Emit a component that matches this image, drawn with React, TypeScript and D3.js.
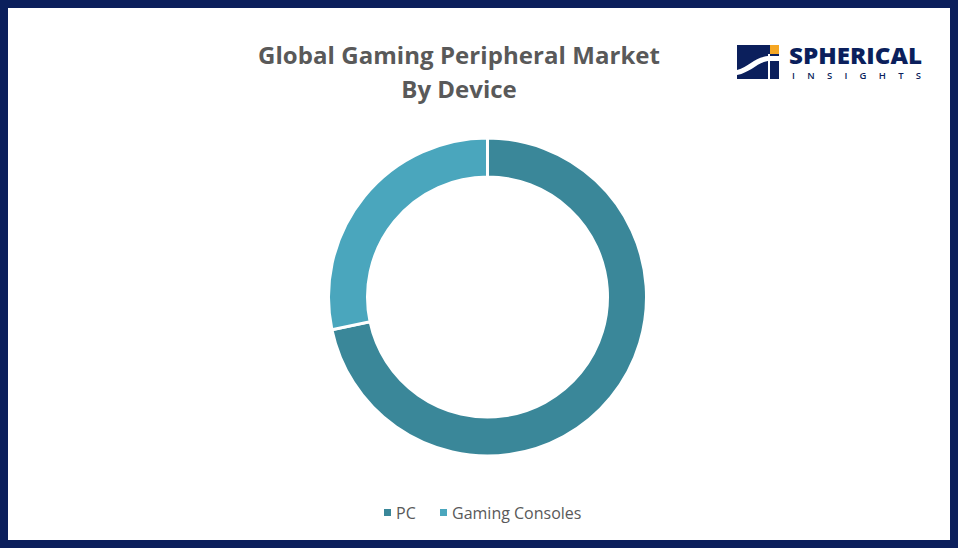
import React from "react";
import * as d3 from "d3";

const categories = ["PC", "Gaming Consoles"];
const values = [71.7, 28.3];
const colors = ["#3a8799", "#4aa6bd"];
const titleLines = ["Global Gaming Peripheral Market", "By Device"];

export default function App() {
  const W = 958, H = 548;
  const cx = 487.5, cy = 297, rOuter = 159, rInner = 120;
  const pie = d3.pie<number>().sort(null).value((d) => d);
  const arcs = pie(values);
  const arcGen = d3.arc<d3.PieArcDatum<number>>().innerRadius(rInner).outerRadius(rOuter);
  const legendX = [384, 440];
  return (
    <svg width={W} height={H} style={{ position: "absolute", left: 0, top: 0 }}>
      <rect x={0} y={0} width={W} height={H} fill="#ffffff" />
      <rect x={4} y={4} width={W - 8} height={H - 8} fill="none" stroke="#0b1f5c" strokeWidth={8} />
      {titleLines.map((t, i) => (
        <text key={i} x={459} y={64 + i * 34} textAnchor="middle" fontFamily="Open Sans, Lato, sans-serif" fontWeight={700} fontSize={24} fill="#595959" textLength={i === 0 ? 402 : undefined}>{t}</text>
      ))}
      <g transform={`translate(${cx},${cy})`}>
        {arcs.map((a, i) => (
          <path key={i} d={arcGen(a) as string} fill={colors[i]} stroke="#ffffff" strokeWidth={3} />
        ))}
      </g>
      {categories.map((c, i) => (
        <g key={c}>
          <rect x={legendX[i]} y={509} width={7} height={7} fill={colors[i]} />
          <text x={legendX[i] + 12} y={519} fontFamily="Open Sans, Lato, sans-serif" fontSize={16} fill="#595959">{c}</text>
        </g>
      ))}
      <g>
        <rect x={737} y={45} width={42} height={34} fill="#0b1f5c" />
        <path d="M737,70 C750,66 756,56 770,56 L779,56 L779,61 L770,61 C758,61 752,72 737,75 Z" fill="#ffffff" />
        <rect x={770} y={45} width={9} height={9} fill="#f5a623" />
        <rect x={768} y={54} width={2} height={25} fill="#ffffff" />
        <text x={789} y={64} fontFamily="Open Sans, Lato, sans-serif" fontWeight={800} fontSize={23} fill="#0b1f5c" textLength={133} lengthAdjust="spacingAndGlyphs">SPHERICAL</text>
        <text x={792} y={79} fontFamily="Open Sans, Lato, sans-serif" fontWeight={600} fontSize={9.5} fill="#0b1f5c" textLength={129} lengthAdjust="spacing">INSIGHTS</text>
      </g>
    </svg>
  );
}
